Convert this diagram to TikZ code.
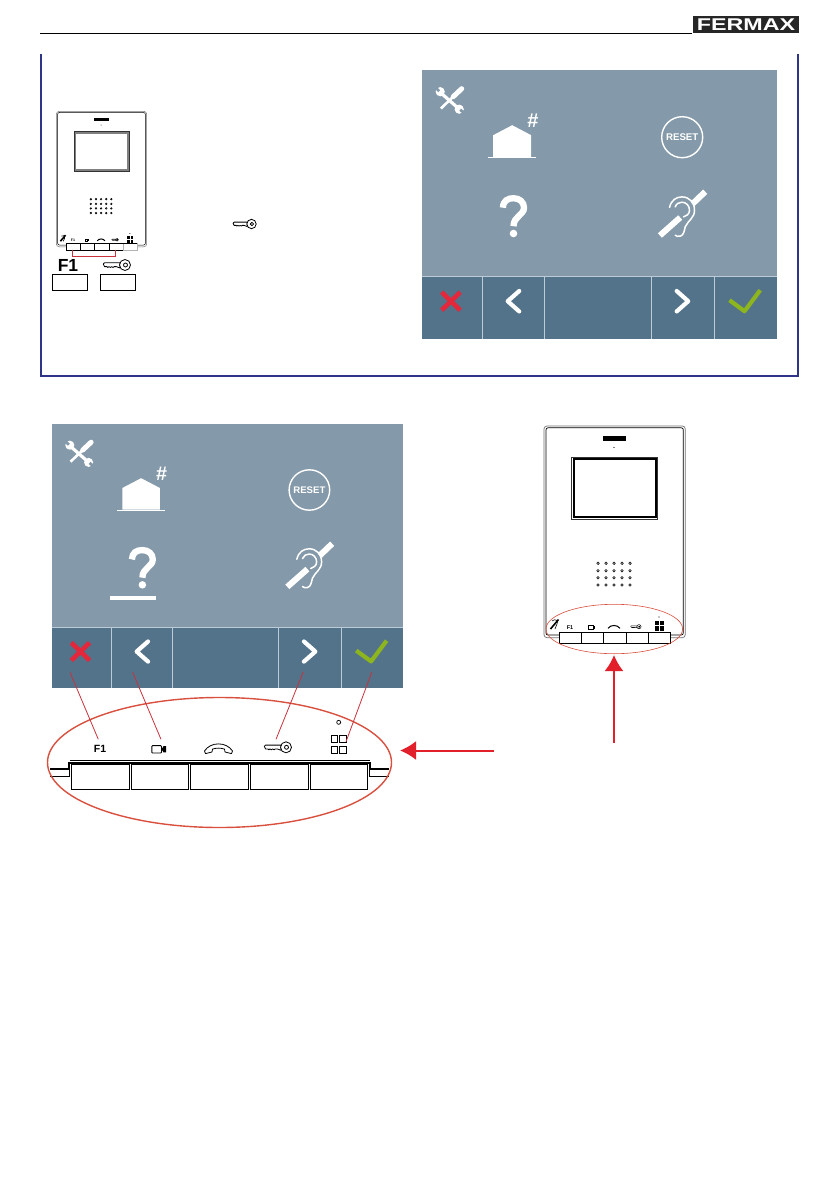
\documentclass[tikz,border=0pt]{standalone}
\usepackage{fontspec}
\setmainfont{Liberation Sans}
\usetikzlibrary{arrows.meta,shapes.geometric}
\definecolor{scrlight}{HTML}{8499A9}
\definecolor{scrdark}{HTML}{53738A}
\definecolor{scrline}{HTML}{BCCBD6}
\definecolor{framblue}{HTML}{2E3488}
\definecolor{xred}{HTML}{E4273A}
\definecolor{okgreen}{HTML}{8DB51E}
\definecolor{ellred}{HTML}{D9503F}
\definecolor{linkred}{HTML}{C8323C}
\definecolor{arrred}{HTML}{E2202C}
\tikzset{
  glyph/.style={inner sep=0pt,outer sep=0pt,font=\bfseries,transform shape},
  iconline/.style={white,line width=4.2pt,line cap=round,line join=round},
  linkline/.style={linkred,line width=0.8pt},
  bigarrow/.style={arrred,line width=2pt,-{Latex[length=16pt,width=19pt]}},
  panelbtn/.style={draw=black,line width=0.7pt,fill=white},
}
% key, bow centre at origin
\newcommand{\keyicon}[4]{% x y scale lw
  \begin{scope}[shift={(#1,#2)},scale=#3,line width=#4,line join=round]
    \draw[fill=white] (-5,-2.2) -- (-20.5,-2.2) -- (-21.7,-1) -- (-20.5,1.6) -- (-18,1.6) -- (-17.2,2.5) -- (-16,1.6) -- (-14.6,2.5) -- (-13.4,1.6) -- (-12,2.5) -- (-10.8,1.6) -- (-8.8,1.6) -- (-5,3) -- cycle;
    \draw[fill=white] (0,0) circle (5.5);
    \draw (0.5,0) circle (2);
  \end{scope}}
% touch panel; origin top-left, 354.5 x 268.5
\newcommand{\touchpanel}[4]{% prefix x y scale-options
  \begin{scope}[shift={(#2,#3)},#4]
    \fill[scrlight] (0,0) rectangle (354.5,206.5);
    \fill[scrdark] (0,206.5) rectangle (354.5,268.5);
    \draw[scrline,line width=0.8pt] (0,206.5) -- (354.5,206.5);
    \draw[scrline,line width=0.8pt] (60,206.5) -- (60,268.5) (122,206.5) -- (122,268.5) (229,206.5) -- (229,268.5) (292,206.5) -- (292,268.5);
    % tools
    \draw[white,line width=3.2pt] (19,23) -- (36,38);
    \fill[white] (18,21.5) circle (4.6) (37,39) circle (4.6);
    \draw[scrlight,line width=2.8pt] (17,21) -- (13.5,17.5) (38,39.5) -- (42,43);
    \draw[white,line width=2.6pt] (18.7,38.3) -- (31,26.5);
    \draw[white,line width=5pt,line cap=round] (31,26.5) -- (39.5,18.5);
    % house
    \fill[white] (71,87) -- (71,65) -- (90,55) -- (109,65) -- (109,87) -- cycle;
    \draw[white,line width=1.2pt] (66,87.5) -- (114,87.5);
    \node[glyph,white,font=\fontsize{20}{20}\bfseries\selectfont] (#1hash) at (110.7,50.5) {\#};
    % reset
    \node[draw=white,circle,line width=1.4pt,minimum size=41pt,inner sep=0pt,transform shape] (#1resetring) at (260,67) {};
    \node[glyph,white,font=\fontsize{9.7}{10}\bfseries\selectfont] (#1reset) at (260,67) {RESET};
    % question mark
    \draw[white,line width=6.3pt] (80.7,137.5) .. controls (81,130.5) and (85.5,128) .. (91.3,128) .. controls (97.5,128) and (101.8,132) .. (101.8,137.5) .. controls (101.8,145) and (91.3,146) .. (91.3,156);
    \fill[white] (91.3,163.3) circle (3.8);
    % ear
    \draw[white,line width=1.5pt,line cap=round] (247.3,137.3) .. controls (249,130) and (254,126.7) .. (259.7,126.7) .. controls (267,126.7) and (272.3,132) .. (272.3,140) .. controls (272.3,148) and (266,150) .. (263,156.7) .. controls (262,161) and (261.5,165) .. (258,166) .. controls (256,166.5) and (254,166) .. (253,165);
    \draw[white,line width=1.5pt,line cap=round] (253,136.7) .. controls (254,133.5) and (257,132) .. (259.7,132) .. controls (264,132) and (267.3,135.5) .. (267.3,140) .. controls (267.3,144) and (264,146) .. (261.3,146.7);
    \draw[white,line width=6pt] (237.7,165.3) -- (258,147.3);
    \draw[white,line width=6pt] (270.5,133.5) -- (283,121.5);
    % bar icons
    \draw[xred,line width=4.6pt] (19.5,222) -- (38,240) (38,222) -- (19.5,240);
    \draw[iconline] (97,220.8) -- (85.5,231) -- (97,241.2);
    \draw[iconline] (254.5,220.8) -- (266,231) -- (254.5,241.2);
    \draw[okgreen,line width=4.2pt,line join=round] (307.3,230) -- (322.3,241) -- (338,220);
  \end{scope}}
% wall monitor; origin top-left, 141.3 x 211.7 at scale 1
\newcommand{\monitor}[6]{% prefix x y scale screen-colour thin-line
  \begin{scope}[shift={(#2,#3)},scale=#4,line width=#6]
    \draw[black!55,rounded corners=3pt] (15.3,211.7) -- (0,211.7) -- (0,0) -- (141.3,0) -- (141.3,211.7) -- (126.7,211.7);
    \draw[black,rounded corners=2pt] (15.3,209) -- (2,209) -- (2,1.8) -- (139.3,1.8) -- (139.3,209) -- (126.7,209);
    \fill[black] (59.3,10.3) rectangle (82,14.7);
    \fill[black] (70,21.5) circle (0.7);
    \draw[#5,line width=2pt] (29.7,33.3) rectangle (112,91.3);
    \draw[black!80,line width=0.5pt] (27.7,31.3) rectangle (113.7,93.3);
    \foreach \sx in {54,62,70,78,86}{\foreach \sy in {137.3,144.7,151.7,159}{\draw[black,line width=0.55pt] (\sx,\sy) circle (1.3);}}
    % icons
    \node[glyph,font=\fontsize{5.5}{6}\bfseries\selectfont] (#1fone) at (26,201.3) {F1};
    \draw[line width=0.5pt] (44.5,199.5) rectangle (49,203.2);
    \fill (49.5,199.8) rectangle (51,203);
    \draw[line width=1pt] (64,202.3) .. controls (67,198.5) and (73,198.5) .. (76,202.3);
    \keyicon{95}{200.7}{0.38}{0.5pt}
    \fill (110.5,194.5) rectangle (119.5,205);
    \draw[white,line width=0.5pt] (115,194.5) -- (115,205) (110.5,199.7) -- (119.5,199.7);
    \fill (115,191) circle (0.7);
    \draw[line width=0.6pt] (8,195) .. controls (11,192) and (15,195) .. (13,198) -- (11,203);
    \draw[black,line width=1.6pt] (6.5,203) -- (14.5,193.5);
    % buttons
    \foreach \ba/\bb in {15.3/37.5,37.5/59.8,59.8/82.2,82.2/104.5,104.5/126.7}{
      \draw[black,fill=white,line width=0.8pt] (\ba,206.3) rectangle (\bb,217.7);}
    \draw[black,line width=1pt] (15.3,206.3) -- (126.7,206.3);
  \end{scope}}
\begin{document}
\begin{tikzpicture}[x=1pt,y=-1pt]
\useasboundingbox (0,0) rectangle (839,1191);
\fill[white] (0,0) rectangle (839,1191);
% header
\coordinate (hleft) at (40,33.5);
\coordinate (hright) at (692,33.5);
\draw[black,line width=0.9pt] (hleft) -- (hright);
\fill[black!85] (693,16) rectangle (799,33);
\node[inner sep=0pt,text=white,font=\fontsize{17}{17}\bfseries\selectfont,xscale=1.37] (logo) at (746,24.5) {FERMAX};
% frame
\draw[framblue,line width=2pt] (41,54) -- (41,376) -- (798,376) -- (798,54);
% top left monitor
\monitor{s}{56.3}{111.3}{0.64}{black!50}{0.5pt}
\draw[black!30,line width=0.8pt,fill=white] (123.2,243.6) rectangle (137.4,250);
\draw[black,line width=0.9pt] (123.2,243.3) -- (137.4,243.3);
% buttons small group
\coordinate (sbtnf) at (72.3,249.7);
\coordinate (sbtnk) at (115.7,249.7);
\draw[linkline,line width=0.7pt] (sbtnf) -- ++(0,6.6) -| (sbtnk);
\node[inner sep=0pt,font=\fontsize{17.5}{18}\bfseries\selectfont] (ftop) at (68,265.5) {F1};
\keyicon{125}{265}{1}{0.8pt}
\node[draw=black,line width=0.7pt,minimum width=35.4pt,minimum height=16pt,inner sep=0pt] (boxf) at (70,282.3) {};
\node[draw=black,line width=0.7pt,minimum width=35.4pt,minimum height=16pt,inner sep=0pt] (boxk) at (118,282.3) {};
\keyicon{251.5}{224}{0.85}{0.8pt}
% top screen
\touchpanel{a}{422.2}{70.2}{scale=1}
% lower screen
\touchpanel{b}{52}{424}{xscale=0.99,yscale=0.985}
\fill[white] (110,596) rectangle (156,600);
% big monitor
\monitor{m}{544}{426}{1}{black}{0.7pt}
\node[draw=ellred,line width=0.6pt,ellipse,minimum width=136.6pt,minimum height=49.4pt,inner sep=0pt] (mell) at (614.3,629) {};
\coordinate (vstart) at (614,743);
\coordinate (vtip) at (614,655);
\draw[bigarrow] (vstart) -- (vtip);
% button panel
\draw[black,line width=0.7pt] (70,760.7) -- (370,760.7);
\draw[black,line width=2pt] (50,769.3) -- (69.3,769.3) -- (69.3,763.3) -- (370.3,763.3) -- (370.3,769.3) -- (389.3,769.3);
\draw[black,line width=0.6pt] (50,776.7) -- (69.3,776.7) -- (69.3,769.3);
\draw[black,line width=0.6pt] (389.3,776.7) -- (369.3,776.7) -- (369.3,769.3);
\node[panelbtn,minimum width=58pt,minimum height=25pt,inner sep=0pt] (pb1) at (100.3,776.8) {};
\node[panelbtn,minimum width=57.4pt,minimum height=25pt,inner sep=0pt] (pb2) at (160,776.8) {};
\node[panelbtn,minimum width=58.4pt,minimum height=25pt,inner sep=0pt] (pb3) at (219.5,776.8) {};
\node[panelbtn,minimum width=58pt,minimum height=25pt,inner sep=0pt] (pb4) at (279.3,776.8) {};
\node[panelbtn,minimum width=57.4pt,minimum height=25pt,inner sep=0pt] (pb5) at (339,776.8) {};
% panel icons
\node[inner sep=0pt,font=\fontsize{10.5}{11}\bfseries\selectfont] (pf1) at (100,749.3) {F1};
\draw[black,line width=0.9pt,rounded corners=0.8pt] (151.8,745.6) rectangle (161.5,753);
\fill[black] (161.5,749.3) -- (163.5,746.2) -- (166,746.2) -- (166,752.4) -- (163.5,752.4) -- cycle;
\begin{scope}[shift={(218.5,749)}]
  \draw[black,line width=0.8pt,line join=round] (-14,2) .. controls (-8,-7.5) and (8,-7.5) .. (14,2) -- (13,4.6) -- (6.5,3) -- (6,0.1) .. controls (2,-1.2) and (-2,-1.2) .. (-6,0.1) -- (-6.5,3) -- (-13,4.6) -- cycle;
\end{scope}
\keyicon{286}{747.3}{1}{0.8pt}
\draw[black,line width=1pt] (331.3,735) rectangle (337.6,742.2) (339.6,735) rectangle (346.2,742.2) (331.3,746) rectangle (337.6,753) (339.6,746) rectangle (346.2,753);
\node[draw=black,circle,line width=0.7pt,minimum size=4pt,inner sep=0pt] (pled) at (338.7,722.3) {};
\node[draw=ellred,line width=1.4pt,ellipse,minimum width=344pt,minimum height=130pt,inner sep=0pt] (pell) at (219.5,762.5) {};
% links
\coordinate (ax) at (70,672.3);
\coordinate (al) at (132.7,672.3);
\coordinate (ar) at (303.3,671.7);
\coordinate (ac) at (371.7,672.3);
\coordinate (bf) at (98.3,739.3);
\coordinate (bc) at (161,739.3);
\coordinate (bk) at (276,739.3);
\coordinate (bg) at (346,741.7);
\draw[linkline] (ax) -- (bf);
\draw[linkline] (al) -- (bc);
\draw[linkline] (ar) -- (bk);
\draw[linkline] (ac) -- (bg);
\coordinate (hstart) at (494,750.5);
\coordinate (htip) at (400,750.5);
\draw[bigarrow] (hstart) -- (htip);
\end{tikzpicture}
\end{document}
